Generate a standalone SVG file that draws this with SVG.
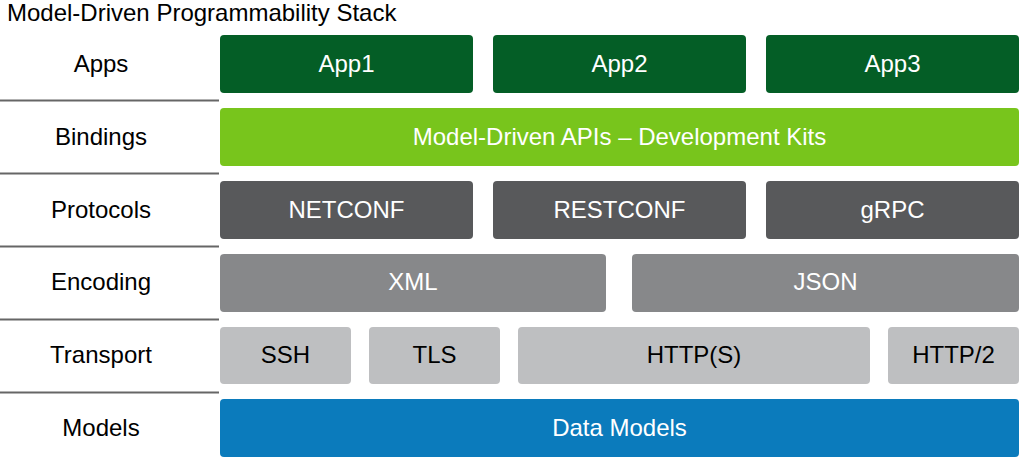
<svg xmlns="http://www.w3.org/2000/svg" width="1020" height="458" viewBox="0 0 1020 458">
<style>
text{font-family:"Liberation Sans",Arial,sans-serif;font-size:24px;text-anchor:middle;dominant-baseline:central}
.w{fill:#fff}.k{fill:#000}
.sep{stroke:#666;stroke-width:2}
.app{fill:#045E26}.bind{fill:#78C51C}.prot{fill:#58595B}.enc{fill:#87888A}.tr{fill:#BEBFC1}.mod{fill:#0B7BBC}
</style>
<rect width="1020" height="458" fill="#fff"/>
<text x="7" y="12" style="text-anchor:start">Model-Driven Programmability Stack</text>
<g id="labels">
<text x="101" y="63">Apps</text>
<text x="101" y="136">Bindings</text>
<text x="101" y="209">Protocols</text>
<text x="101" y="281">Encoding</text>
<text x="101" y="354">Transport</text>
<text x="101" y="427">Models</text>
</g>
<g id="separators">
<line class="sep" x1="0" y1="100.5" x2="219" y2="100.5"/>
<line class="sep" x1="0" y1="173.5" x2="219" y2="173.5"/>
<line class="sep" x1="0" y1="246.5" x2="219" y2="246.5"/>
<line class="sep" x1="0" y1="319.5" x2="219" y2="319.5"/>
<line class="sep" x1="0" y1="392.5" x2="219" y2="392.5"/>
</g>
<g id="app1"><rect class="app" x="220" y="35" width="253" height="58" rx="4"/><text class="w" x="346.5" y="63">App1</text></g>
<g id="app2"><rect class="app" x="493" y="35" width="253" height="58" rx="4"/><text class="w" x="619.5" y="63">App2</text></g>
<g id="app3"><rect class="app" x="766" y="35" width="253" height="58" rx="4"/><text class="w" x="892.5" y="63">App3</text></g>
<g id="bindings"><rect class="bind" x="220" y="108" width="799" height="58" rx="4"/><text class="w" x="619.5" y="136">Model-Driven APIs – Development Kits</text></g>
<g id="netconf"><rect class="prot" x="220" y="181" width="253" height="58" rx="4"/><text class="w" x="346.5" y="209">NETCONF</text></g>
<g id="restconf"><rect class="prot" x="493" y="181" width="253" height="58" rx="4"/><text class="w" x="619.5" y="209">RESTCONF</text></g>
<g id="grpc"><rect class="prot" x="766" y="181" width="253" height="58" rx="4"/><text class="w" x="892.5" y="209">gRPC</text></g>
<g id="xml"><rect class="enc" x="220" y="254" width="386" height="58" rx="4"/><text class="w" x="413" y="281">XML</text></g>
<g id="json"><rect class="enc" x="632" y="254" width="387" height="58" rx="4"/><text class="w" x="825.5" y="281">JSON</text></g>
<g id="ssh"><rect class="tr" x="220" y="327" width="131" height="57" rx="4"/><text class="k" x="285.5" y="354">SSH</text></g>
<g id="tls"><rect class="tr" x="369" y="327" width="131" height="57" rx="4"/><text class="k" x="434.5" y="354">TLS</text></g>
<g id="https"><rect class="tr" x="518" y="327" width="352" height="57" rx="4"/><text class="k" x="694" y="354">HTTP(S)</text></g>
<g id="http2"><rect class="tr" x="888" y="327" width="131" height="57" rx="4"/><text class="k" x="953.5" y="354">HTTP/2</text></g>
<g id="models"><rect class="mod" x="220" y="399" width="799" height="58" rx="4"/><text class="w" x="619.5" y="427">Data Models</text></g>
</svg>
